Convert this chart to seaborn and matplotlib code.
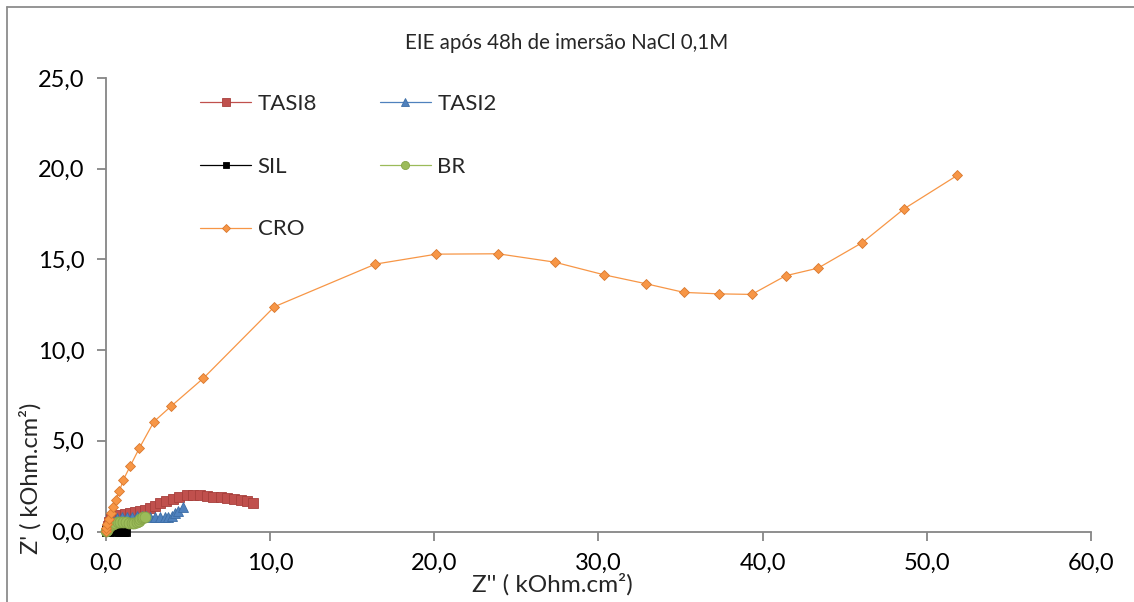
import numpy as np
import pandas as pd
import matplotlib
matplotlib.use("Agg")
import matplotlib.pyplot as plt
from matplotlib.lines import Line2D
import seaborn as sns

# ---------------- data (kOhm.cm2) ----------------
tasi8_x = [0.05, 0.12, 0.22, 0.35, 0.57, 0.87, 1.18, 1.48, 1.78, 2.09, 2.39, 2.70, 3.00, 3.31,
           3.67, 4.08, 4.49, 4.93, 5.34, 5.74, 6.15, 6.55, 7.00, 7.41, 7.81, 8.22, 8.59, 8.99]
tasi8_y = [0.10, 0.30, 0.50, 0.70, 0.85, 0.91, 0.96, 1.02, 1.07, 1.13, 1.20, 1.30, 1.41, 1.55,
           1.66, 1.79, 1.92, 1.99, 2.01, 1.99, 1.96, 1.92, 1.88, 1.85, 1.81, 1.75, 1.68, 1.55]

tasi2_x = [0.10, 0.25, 0.45, 0.70, 1.00, 1.30, 1.60, 1.90, 2.20, 2.45, 2.70, 3.00, 3.31, 3.61,
           3.81, 4.02, 4.22, 4.42, 4.73]
tasi2_y = [0.15, 0.40, 0.60, 0.72, 0.78, 0.80, 0.82, 0.83, 0.84, 0.83, 0.82, 0.80, 0.78, 0.78,
           0.82, 0.87, 1.00, 1.13, 1.35]

sil_x = [0.05, 0.15, 0.25, 0.35, 0.45, 0.55, 0.65, 0.75, 0.85, 0.95, 1.05, 1.15]
sil_y = [0.01, 0.03, 0.05, 0.06, 0.07, 0.07, 0.07, 0.06, 0.05, 0.04, 0.03, 0.01]

br_x = [0.00, 0.05, 0.12, 0.20, 0.30, 0.42, 0.57, 0.75, 0.90, 1.07, 1.25, 1.42, 1.58, 1.75,
        1.89, 2.00, 2.09, 2.20, 2.30, 2.39]
br_y = [0.02, 0.10, 0.20, 0.30, 0.38, 0.44, 0.49, 0.52, 0.54, 0.54, 0.50, 0.46, 0.45, 0.49,
        0.54, 0.60, 0.67, 0.73, 0.78, 0.82]

cro_x = [0.00, 0.02, 0.08, 0.18, 0.32, 0.47, 0.61, 0.83, 1.08, 1.50, 2.05, 2.94, 4.00, 5.95,
         10.27, 16.42, 20.14, 23.89, 27.33, 30.35, 32.89, 35.22, 37.35, 39.34, 41.41, 43.38,
         46.08, 48.62, 51.87]
cro_y = [0.02, 0.17, 0.42, 0.70, 1.03, 1.36, 1.73, 2.22, 2.86, 3.62, 4.60, 6.06, 6.92, 8.45,
         12.39, 14.74, 15.29, 15.31, 14.85, 14.15, 13.66, 13.18, 13.10, 13.07, 14.10, 14.52,
         15.93, 17.79, 19.64]

series_names = ["TASI8", "TASI2", "SIL", "BR", "CRO"]
xticks = [0, 10, 20, 30, 40, 50, 60]
yticks = [0, 5, 10, 15, 20, 25]
title = "EIE após 48h de imersão NaCl 0,1M"
xlabel = "Z'' ( kOhm.cm²)"
ylabel = "Z' ( kOhm.cm²)"

# ---------------- styling ----------------
sns.set_theme(style="white")
plt.rcParams["font.family"] = ["Lato", "DejaVu Sans"]

W, H = 1134, 602
fig = plt.figure(figsize=(W / 100, H / 100), dpi=100)
fig.patch.set_facecolor("white")

x0, x1 = 105.7, 1091.0
y0, y1 = 531.5, 78.0
ax = fig.add_axes([x0 / W, 1 - y0 / H, (x1 - x0) / W, (y0 - y1) / H])

styles = {
    "TASI8": dict(color="#C0504D", mec="#A8403C", marker="s", ms=7.2),
    "TASI2": dict(color="#4F81BD", mec="#3C6DA6", marker="^", ms=7.5),
    "SIL":   dict(color="#000000", mec="#000000", marker="s", ms=6.5),
    "BR":    dict(color="#9BBB59", mec="#86A548", marker="o", ms=7.8),
    "CRO":   dict(color="#F79646", mec="#D9782E", marker="D", ms=5.2),
}
data = {
    "TASI8": (tasi8_x, tasi8_y),
    "TASI2": (tasi2_x, tasi2_y),
    "SIL": (sil_x, sil_y),
    "BR": (br_x, br_y),
    "CRO": (cro_x, cro_y),
}

handles = {}
for i, name in enumerate(series_names):
    xs, ys = data[name]
    st = styles[name]
    df = pd.DataFrame({"x": xs, "y": ys})
    sns.lineplot(data=df, x="x", y="y", sort=False, ax=ax, color=st["color"],
                 linewidth=0.9, marker=st["marker"], markersize=st["ms"],
                 markeredgecolor=st["mec"], markeredgewidth=0.6,
                 estimator=None, zorder=3 + i, clip_on=False)
    handles[name] = Line2D([], [], color=st["color"], linewidth=0.9, marker=st["marker"],
                           markersize=st["ms"] * 0.75, markeredgecolor=st["mec"],
                           markeredgewidth=0.6)

ax.set_xlim(0, 60)
ax.set_ylim(0, 25)
ax.set_xticks(xticks)
ax.set_yticks(yticks)
fmt = lambda v: f"{v:.1f}".replace(".", ",")
ax.set_xticklabels([fmt(v) for v in xticks])
ax.set_yticklabels([fmt(v) for v in yticks])
ax.set_xlabel("")
ax.set_ylabel("")

axis_col = "#868686"
for s in ["top", "right"]:
    ax.spines[s].set_visible(False)
for s in ["left", "bottom"]:
    ax.spines[s].set_color(axis_col)
    ax.spines[s].set_linewidth(1.3)
ax.tick_params(axis="both", direction="out", length=6.5, width=1.3, color=axis_col,
               labelsize=17, labelcolor="black", pad=9, bottom=True, left=True)
ax.grid(False)

order = ["TASI8", "SIL", "CRO", "TASI2", "BR"]
leg = ax.legend([handles[n] for n in order], order, ncol=2, frameon=False,
                loc="upper left", bbox_to_anchor=(200 / W, 1 - 94 / H),
                bbox_transform=fig.transFigure, borderpad=0, borderaxespad=0,
                handlelength=2.3, handletextpad=0.3, labelspacing=1.92,
                columnspacing=2.8, fontsize=16)

fig.text(567 / W, 1 - 43 / H, title, ha="center", va="center", fontsize=14.8)
fig.text(552 / W, 1 - 584 / H, xlabel, ha="center", va="center", fontsize=17.5)
fig.text(30 / W, 1 - 478 / H, ylabel, ha="center", va="center", fontsize=17, rotation=90)

# outer chart border (left and top visible)
border_col = "#8C8C8C"
fig.add_artist(Line2D([7 / W, 7 / W], [0, 1 - 7 / H], transform=fig.transFigure,
                      color=border_col, linewidth=1.3))
fig.add_artist(Line2D([7 / W, 1], [1 - 7 / H, 1 - 7 / H], transform=fig.transFigure,
                      color=border_col, linewidth=1.3))

fig.savefig("out.png", dpi=100, facecolor="white")
